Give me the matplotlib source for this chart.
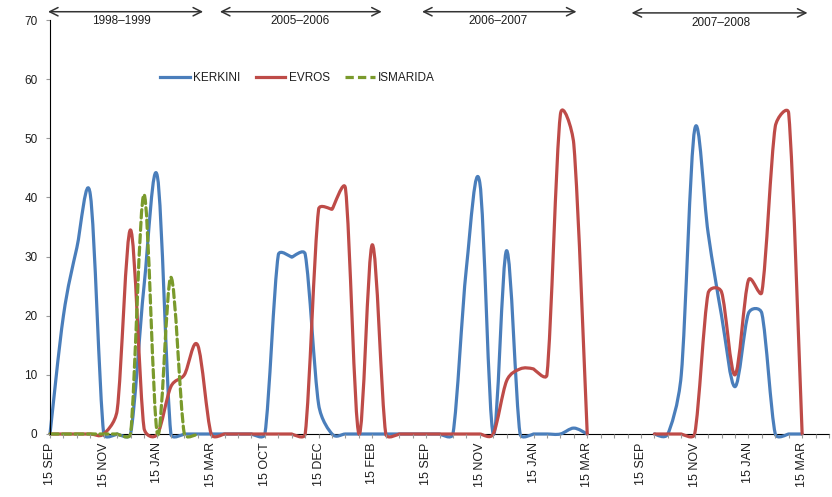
import numpy as np
import matplotlib
matplotlib.use('Agg')
import matplotlib.pyplot as plt
from matplotlib.path import Path
from matplotlib.patches import PathPatch
from matplotlib.lines import Line2D

plt.rcParams['font.family'] = ['Liberation Sans', 'DejaVu Sans']

N = None  # no sampling in that half-month

# half-monthly values, one entry per category on the x axis
kerkini = [0, 20, 31.5, 40.5, 0, 0, 0, 25, 43.5, 0,
           0, 0, 0, 0, 0, 0, 0, 30.3, 29.9, 30.4,
           5, 0, 0, 0, 0, 0, 0, 0, 0, 0,
           0, 28, 42.5, 0, 31, 0, 0, 0, 0, 1,
           0, N, N, N, N, 0, 0, 10, 51.5, 34,
           20, 8, 20.4, 20.4, 0, 0, 0]
evros = [0, 0, 0, 0, 0, 4, 34.5, 1, 0, 8,
         10, 15, 0, 0, 0, 0, 0, 0, 0, 0,
         38, 38, 41.5, 0, 32, 0, 0, 0, 0, 0,
         0, 0, 0, 0, 9, 11, 11, 10, 54, 49,
         0, N, N, N, N, 0, 0, 0, 0, 23.8,
         24, 10, 26, 24, 52, 54.2, 0]
ismarida = [0, 0, 0, 0, 0, 0, 0, 40.5, 0, 26.5,
            0, 0]

tick_labels = ['15 SEP', '15 NOV', '15 JAN', '15 MAR',
               '15 OCT', '15 DEC', '15 FEB',
               '15 SEP', '15 NOV', '15 JAN', '15 MAR',
               '15 SEP', '15 NOV', '15 JAN', '15 MAR']
seasons = ['1998–1999', '2005–2006', '2006–2007', '2007–2008']

n_cat = 59
txt = '#1e1e1e'
fs = 8.5

fig = plt.figure(figsize=(8.32, 4.97), dpi=100)
ax = fig.add_axes([50 / 832, 63 / 497, 779 / 832, 414 / 497])
ax.set_xlim(0, n_cat - 1)
ax.set_ylim(0, 70)


def control_points(p0, p1, p2, p3):
    # spreadsheet-style smoothing: arms of 1/6 the chord, limited to half the segment
    d12 = np.hypot(*(p2 - p1))
    d02 = np.hypot(*(p2 - p0))
    d13 = np.hypot(*(p3 - p1))
    if d12 == 0:
        return p1, p2
    d02 = d02 or d12
    d13 = d13 or d12
    big0 = d02 / 6 >= d12 / 2
    big3 = d13 / 6 >= d12 / 2
    if not big0 and not big3:
        f0, f3 = 1 / 6, 1 / 6
    elif big0 and big3:
        f0, f3 = d12 / 2 / d02, d12 / 2 / d13
    elif big0:
        f0 = d12 / 2 / d02
        f3 = d12 / 2 / d02
    else:
        f0 = d12 / 2 / d13
        f3 = d12 / 2 / d13
    return p1 + (p2 - p0) * f0, p2 - (p3 - p1) * f3


def smooth_path(xs, ys):
    pts = ax.transData.transform(np.column_stack([xs, ys]))
    n = len(pts)
    verts = [pts[0]]
    codes = [Path.MOVETO]
    for i in range(n - 1):
        p0 = pts[i - 1] if i > 0 else pts[i]
        p3 = pts[i + 2] if i + 2 < n else pts[i + 1]
        c1, c2 = control_points(p0, pts[i], pts[i + 1], p3)
        verts += [c1, c2, pts[i + 1]]
        codes += [Path.CURVE4] * 3
    verts = ax.transData.inverted().transform(np.array(verts))
    return Path(verts, codes)


def draw_series(values, color, ls='-'):
    run_x, run_y = [], []
    runs = []
    for i, v in enumerate(values):
        if v is None:
            if run_x:
                runs.append((run_x, run_y))
            run_x, run_y = [], []
        else:
            run_x.append(i)
            run_y.append(v)
    if run_x:
        runs.append((run_x, run_y))
    for xs, ys in runs:
        patch = PathPatch(smooth_path(xs, ys), fill=False, edgecolor=color,
                          lw=2.3, ls=ls, capstyle='round', joinstyle='round',
                          clip_on=False)
        ax.add_patch(patch)


blue = '#4a7ebb'
red = '#be4b48'
green = '#7a9a2c'
dash = (0, (2.6, 1.3))

draw_series(kerkini, blue)
draw_series(evros, red)
draw_series(ismarida, green, dash)

handles = [Line2D([], [], color=blue, lw=2.3),
           Line2D([], [], color=red, lw=2.3),
           Line2D([], [], color=green, lw=2.3, ls=dash)]
fig.legend(handles, ['KERKINI', 'EVROS', 'ISMARIDA'], loc='center left',
           bbox_to_anchor=(160 / 832, 1 - 78 / 497), ncol=3, frameon=False,
           fontsize=fs, handlelength=2.5, handletextpad=0.3,
           columnspacing=1.3, borderpad=0, borderaxespad=0, labelcolor=txt)

# season spans above the plot
spans = [(-0.15, 11.4), (12.65, 24.7), (27.7, 39.2), (43.3, 56.4)]
label_x = [5.3, 18.6, 33.35, 49.95]
arrow_y = [71.4, 71.4, 71.4, 71.2]
label_y = [69.9, 69.9, 69.9, 69.5]
for (x0, x1), name, lx, ay, ly in zip(spans, seasons, label_x, arrow_y, label_y):
    ax.annotate('', xy=(x1, ay), xytext=(x0, ay), annotation_clip=False,
                arrowprops=dict(arrowstyle='<->, head_length=0.6, head_width=0.3',
                                color='#333333', lw=1.1, shrinkA=0, shrinkB=0))
    ax.text(lx, ly, name, ha='center', va='center',
            fontsize=fs, color=txt, clip_on=False)

ax.set_yticks(range(0, 71, 10))
ax.set_xticks(range(0, 57, 4))
ax.set_xticklabels(tick_labels, rotation=90, fontsize=9, color=txt)
ax.set_xticks(range(n_cat), minor=True)
ax.tick_params(axis='y', labelsize=fs, labelcolor=txt, color='#9a9a9a',
               length=3, width=0.8, pad=6)
ax.tick_params(axis='x', which='both', color='#9a9a9a', length=3,
               width=0.8, pad=3)

for side in ['top', 'right']:
    ax.spines[side].set_visible(False)
for side in ['left', 'bottom']:
    ax.spines[side].set_color('black')
    ax.spines[side].set_linewidth(0.8)
ax.spines['bottom'].set_zorder(0)

fig.savefig('out.png', dpi=100)
